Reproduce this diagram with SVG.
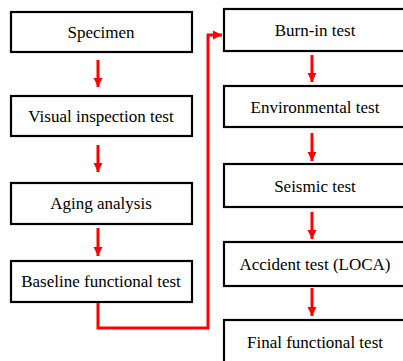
<svg xmlns="http://www.w3.org/2000/svg" width="403" height="361" viewBox="0 0 403 361">
<style>
.box{fill:#fff;stroke:#000;stroke-width:2.2}
.lbl{font-family:'Liberation Serif','DejaVu Serif',serif;font-size:17px;fill:#000;text-anchor:middle}
.arr{fill:none;stroke:#ff0000;stroke-width:3}
</style>
<defs>
<marker id="ah" markerUnits="userSpaceOnUse" markerWidth="10" markerHeight="10" viewBox="0 0 10 10" refX="9" refY="5" orient="auto">
<path d="M0,0.5 L9,5 L0,9.5 Z" fill="#ff0000"/>
</marker>
</defs>
<rect width="403" height="361" fill="#fff"/>
<g id="specimen"><rect class="box" x="11" y="12" width="181" height="40"/><text class="lbl" x="101" y="38">Specimen</text></g>
<g id="visual"><rect class="box" x="11" y="96" width="181" height="40"/><text class="lbl" x="101" y="122">Visual inspection test</text></g>
<g id="aging"><rect class="box" x="11" y="183" width="181" height="41"/><text class="lbl" x="101" y="209">Aging analysis</text></g>
<g id="baseline"><rect class="box" x="11" y="261" width="181" height="41"/><text class="lbl" x="101" y="287">Baseline functional test</text></g>
<g id="burnin"><rect class="box" x="224" y="9" width="183" height="42"/><text class="lbl" x="315" y="36">Burn-in test</text></g>
<g id="environmental"><rect class="box" x="224" y="86" width="183" height="41"/><text class="lbl" x="315" y="113">Environmental test</text></g>
<g id="seismic"><rect class="box" x="224" y="164" width="183" height="43"/><text class="lbl" x="315" y="192">Seismic test</text></g>
<g id="accident"><rect class="box" x="224" y="242" width="183" height="44"/><text class="lbl" x="315" y="270">Accident test (LOCA)</text></g>
<g id="final"><rect class="box" x="224" y="320" width="183" height="44"/><text class="lbl" x="315" y="348">Final functional test</text></g>
<g id="connectors">
<path class="arr" d="M98,60 V87" marker-end="url(#ah)"/>
<path class="arr" d="M98,145 V172" marker-end="url(#ah)"/>
<path class="arr" d="M98,228 V256" marker-end="url(#ah)"/>
<path class="arr" d="M98,303 V328 H208 V35 H222" marker-end="url(#ah)"/>
<path class="arr" d="M312,55 V82" marker-end="url(#ah)"/>
<path class="arr" d="M312,133 V161" marker-end="url(#ah)"/>
<path class="arr" d="M312,212 V239" marker-end="url(#ah)"/>
<path class="arr" d="M312,288 V316" marker-end="url(#ah)"/>
</g>
</svg>
